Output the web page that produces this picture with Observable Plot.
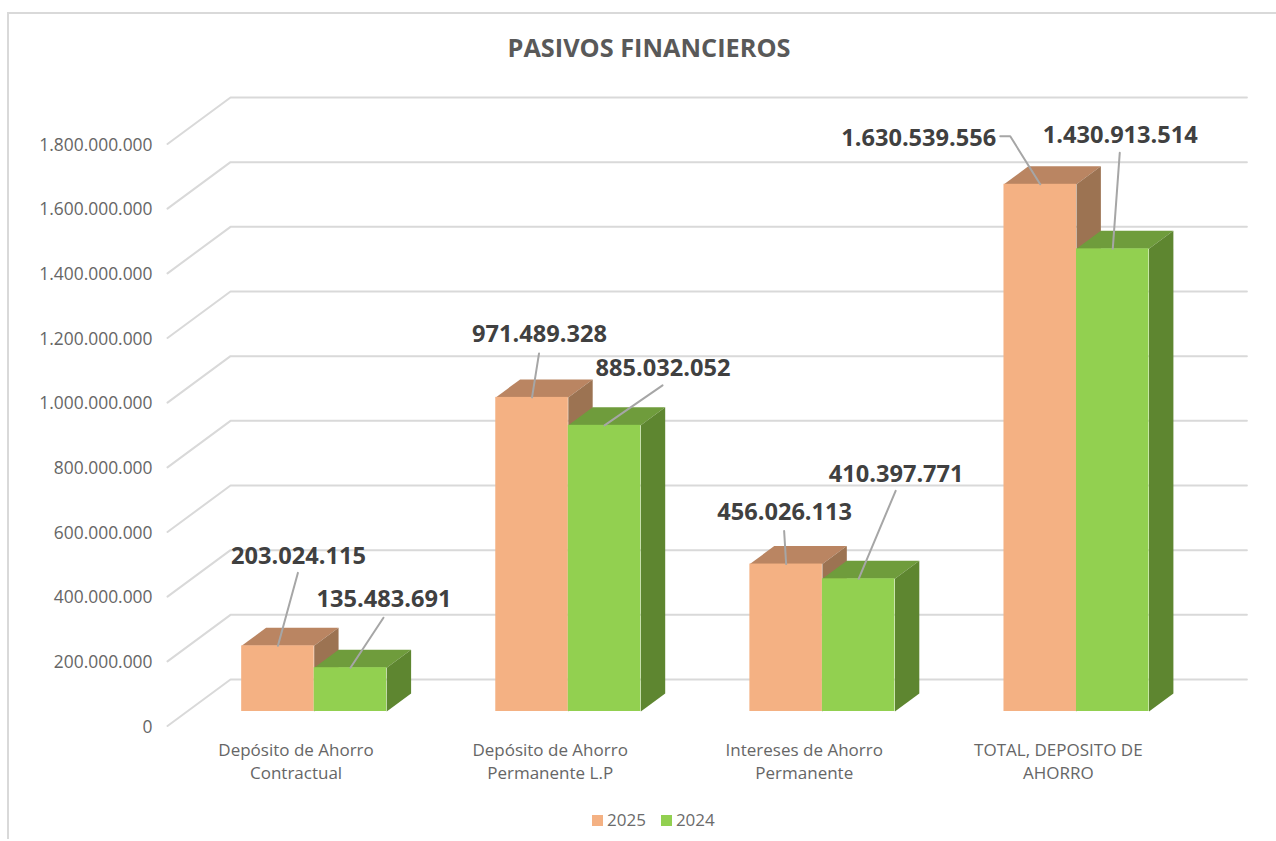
<!DOCTYPE html>
<html>
<head>
<meta charset="utf-8">
<script src="https://cdn.jsdelivr.net/npm/d3@7"></script>
<script src="https://cdn.jsdelivr.net/npm/@observablehq/plot@0.6"></script>
<style>
  html, body { margin: 0; padding: 0; background: #fff; overflow: hidden; }
  body { width: 1276px; height: 841px; font-family: "Open Sans", sans-serif; }
  #frame { margin: 12px 0 0 7px; border-top: 2px solid #d9d9d9; border-left: 2px solid #d9d9d9; width: 1269px; height: 827px; box-sizing: border-box; }
  #title { height: 68px; width: 1276px; margin-left: -9px; text-align: center; padding-top: 15px; box-sizing: border-box; padding-left: 22px;
           font-size: 25.3px; font-weight: 700; color: #595959; line-height: 36px; }
  #chart svg { display: block; }
  #legend { display: flex; align-items: center; margin: 10px 0 0 583px; font-size: 17px; color: #6b6b6b; line-height: 20px; }
  #legend span.sw { width: 11px; height: 11px; display: inline-block; margin-right: 4px; }
  #legend span.lb { margin-right: 15px; }
</style>
</head>
<body>
<div id="frame">
  <div id="title">PASIVOS FINANCIEROS</div>
  <div id="chart"></div>
  <div id="legend"></div>
</div>
<script>
// ---- data ----
const categories = [
  "Depósito de Ahorro\nContractual",
  "Depósito de Ahorro\nPermanente L.P",
  "Intereses de Ahorro\nPermanente",
  "TOTAL, DEPOSITO DE\nAHORRO"
];
const values2025 = [203024115, 971489328, 456026113, 1630539556];
const values2024 = [135483691, 885032052, 410397771, 1430913514];
const yTicks = [0, 200000000, 400000000, 600000000, 800000000, 1000000000, 1200000000, 1400000000, 1600000000, 1800000000];

// ---- layout (pixels) ----
const stepPx = 254.1, plotPx = 582;
const wallDxPx = 63, wallDyPx = 46.5;
const frontDepth = 14.5 / 46.5, backDepth = 32.5 / 46.5;
const barWidth = 0.2854, barOffset = 0.2146;
// label offset from the bar's anchor: [label dx, label dy, leader end dx, leader end dy, elbow?]
const offsets2025 = [[20,-90,20,-73],[7,-63,7,-44],[-2,-52,-2,-33],[-122,-46,-40,-48,-30,-48]];
const offsets2024 = [[33,-69,33,-50],[58,-57,58,-40],[37,-105,37,-88],[7,-114,7,-96]];

const colors = {
  "2025": {front: "#F4B183", top: "#BA8562", side: "#9C7352"},
  "2024": {front: "#92D050", top: "#6F9C3C", side: "#5E8630"}
};

const ux = px => px / stepPx;
const uy = px => px * 1.8e9 / plotPx;
// oblique projection: depth 0 is the axis plane, 1 the back wall, value 0 sits on the bars' front base
const px = (x, depth) => x + ux(wallDxPx) * depth;
const py = (v, depth) => v + uy(wallDyPx) * (depth - frontDepth);

const fmt = d3.formatLocale({decimal: ",", thousands: ".", grouping: [3], currency: ["", ""]}).format(",d");

const series = [
  {name: "2025", values: values2025, slot: 0, offsets: offsets2025},
  {name: "2024", values: values2024, slot: 1, offsets: offsets2024}
];

const grid = yTicks.flatMap(v => [
  {id: v, x: px(0, 0), y: py(v, 0)},
  {id: v, x: px(0, 1), y: py(v, 1)},
  {id: v, x: px(categories.length, 1), y: py(v, 1)}
]);

const faces = [], fronts = [], labels = [], leaders = [];
series.forEach(s => s.values.forEach((v, i) => {
  const x1 = i + barOffset + s.slot * barWidth, x2 = x1 + barWidth;
  const c = colors[s.name];
  const addFace = (id, fill, pts) => pts.forEach(([x, y, d]) =>
    faces.push({id: `${s.name}-${i}-${id}`, fill, x: px(x, d), y: py(y, d)}));
  addFace("top", c.top, [[x1, v, frontDepth], [x2, v, frontDepth], [x2, v, backDepth], [x1, v, backDepth]]);
  addFace("side", c.side, [[x2, 0, frontDepth], [x2, v, frontDepth], [x2, v, backDepth], [x2, 0, backDepth]]);
  const fx1 = px(x1, frontDepth), fx2 = px(x2, frontDepth);
  fronts.push({x1: fx1, x2: fx2, y1: 0, y2: v, fill: c.front});
  const ax = (fx1 + fx2) / 2;
  const o = s.offsets[i];
  labels.push({x: ax + ux(o[0]), y: v - uy(o[1]), text: fmt(v)});
  const id = `${s.name}-${i}`;
  leaders.push({id, x: ax, y: v});
  if (o.length > 4) leaders.push({id, x: ax + ux(o[4]), y: v - uy(o[5])});
  leaders.push({id, x: ax + ux(o[2]), y: v - uy(o[3])});
}));

const plot = Plot.plot({
  width: 1266, height: 718,
  marginLeft: 158, marginRight: 91, marginTop: 20, marginBottom: 76,
  style: {fontFamily: '"Open Sans", sans-serif', background: "transparent"},
  x: {domain: [0, categories.length], range: [158, 158 + stepPx * categories.length], axis: null},
  y: {domain: [0, 1.8e9], range: [629, 629 - plotPx], axis: null},
  color: {type: "identity"},
  marks: [
    Plot.line(grid, {x: "x", y: "y", z: "id", stroke: "#d9d9d9", strokeWidth: 2}),
    Plot.axisY({anchor: "left", ticks: yTicks, tickFormat: fmt, tickSize: 0, tickPadding: 15, dy: 15.5, label: null, fontSize: 17.4, color: "#666666"}),
    Plot.axisX({anchor: "bottom", ticks: categories.map((_, i) => i + 0.5), tickFormat: (d) => categories[Math.floor(d)], tickSize: 0, tickPadding: 15, dx: 1.5, label: null, fontSize: 17, lineHeight: 1.35, color: "#666666"}),
    Plot.line(faces, {x: "x", y: "y", z: "id", fill: "fill", stroke: "none"}),
    Plot.rect(fronts, {x1: "x1", x2: "x2", y1: "y1", y2: "y2", fill: "fill"}),
    Plot.line(leaders, {x: "x", y: "y", z: "id", stroke: "#a6a6a6", strokeWidth: 2}),
    Plot.text(labels, {x: "x", y: "y", text: "text", dx: 0.5, dy: 0.5, fontSize: 23.6, fontWeight: 700, fill: "#404040"})
  ]
});
document.getElementById("chart").appendChild(plot);

const legend = document.getElementById("legend");
series.forEach(s => {
  const sw = document.createElement("span"); sw.className = "sw"; sw.style.background = colors[s.name].front;
  const lb = document.createElement("span"); lb.className = "lb"; lb.textContent = s.name;
  legend.append(sw, lb);
});
</script>
</body>
</html>
